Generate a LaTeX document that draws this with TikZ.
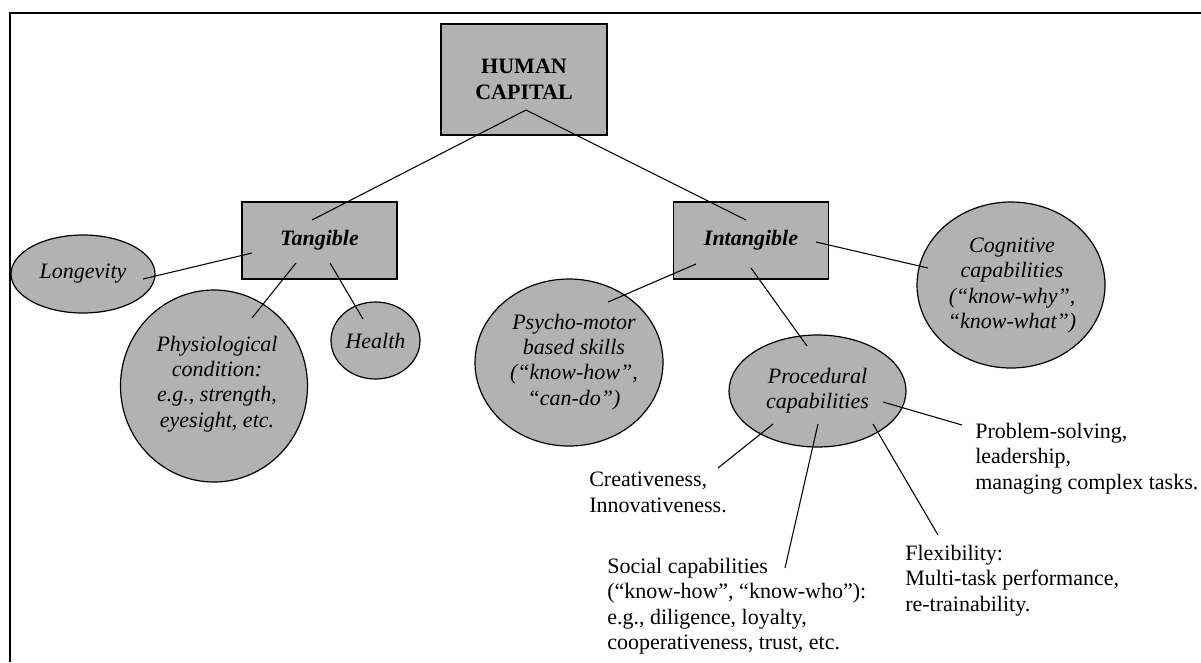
\documentclass[tikz,border=0pt]{standalone}
\usepackage{fontspec}
\setmainfont{Liberation Serif}
\usepackage{tikz}
\usetikzlibrary{positioning,shapes.geometric,calc}

\tikzset{
  capbox/.style={draw, fill=black!30, line width=0.9pt, inner sep=0pt},
  capblob/.style={draw, fill=black!30, line width=0.9pt, ellipse, inner sep=0pt},
  captext/.style={font=\fontsize{16.5}{19}\selectfont\itshape, align=center, inner sep=0pt},
  plaintext/.style={font=\fontsize{16.5}{19}\selectfont, align=left, anchor=north west, inner sep=0pt},
  branch/.style={line width=0.8pt}
}

\begin{document}
\begin{tikzpicture}[x=0.75pt,y=0.75pt,yscale=-1,xscale=1]
\useasboundingbox (0,0) rectangle (1201,662);

%Frame
\draw [line width=1.5pt] (1201,12.5) -- (9.5,12.5) -- (9.5,662);

%Shape: Rectangle
\node [capbox, minimum width=124.5pt, minimum height=83.25pt, font=\fontsize{16.5}{19}\selectfont\bfseries, align=center] (hc) at (524,79.5) {HUMAN\\CAPITAL};
\node [capbox, minimum width=116.25pt, minimum height=57.75pt, font=\fontsize{16.5}{19}\selectfont\bfseries\itshape] (tg) at (319.5,240.5) {Tangible\hspace{10.5pt}};
\node [capbox, minimum width=116.25pt, minimum height=57.75pt, font=\fontsize{16.5}{19}\selectfont\bfseries\itshape] (itg) at (751,240.5) {Intangible\hspace{9pt}};

%Shape: Ellipse
\node [capblob, minimum width=108pt, minimum height=58.5pt, font=\fontsize{16.5}{19}\selectfont\itshape] (lg) at (83,274) {Longevity};
\node [capblob, minimum width=140.25pt, minimum height=144pt] (ph) at (214,386) {};
\node [capblob, minimum width=66.75pt, minimum height=57.75pt, font=\fontsize{16.5}{19}\selectfont\itshape] (hl) at (375.5,340.5) {Health};
\node [capblob, minimum width=141pt, minimum height=125.25pt] (ps) at (569,362.5) {};
\node [capblob, minimum width=141pt, minimum height=124.5pt] (cg) at (1011,285) {};
\node [capblob, minimum width=132.75pt, minimum height=84pt, captext] (pr) at (817.5,391) {Procedural\\capabilities};

% Text Node
\node [captext] (pht) at (217,384) {Physiological\\condition:\\e.g., strength,\\eyesight, etc.};
\node [captext] (pst) at (574,362) {Psycho-motor\\based skills\\(“know-how”,\\“can-do”)};
\node [captext] (cgt) at (1012,285.5) {Cognitive\\capabilities\\(“know-why”,\\“know-what”)};

\node [plaintext] (cr) at (589,472) {Creativeness,\\Innovativeness.};
\node [plaintext] (so) at (607,558) {Social capabilities\\(“know-how”, “know-who”):\\e.g., diligence, loyalty,\\cooperativeness, trust, etc.};
\node [plaintext] (fx) at (905,545) {Flexibility:\\Multi-task performance,\\re-trainability.};
\node [plaintext] (pb) at (975,423) {Problem-solving,\\leadership,\\managing complex tasks.};

\coordinate (crx) at (718,468);
\coordinate (sox) at (785,568);
\coordinate (fxx) at (938,535);
\coordinate (pbx) at (962,425);

%Straight Lines
\draw [branch] ($(hc)+(2,30.5)$) -- ($(tg)+(-7.5,-20.5)$);
\draw [branch] ($(hc)+(2,30.5)$) -- ($(itg)+(-5,-20.5)$);

\draw [branch] ($(lg)+(60,5)$) -- ($(tg)+(-67.5,12.5)$);
\draw [branch] ($(tg)+(-23.5,22.5)$) -- ($(ph)+(38,-68)$);
\draw [branch] ($(tg)+(10.5,22.5)$) -- ($(hl)+(-12.5,-21.5)$);

\draw [branch] ($(itg)+(-55,23.5)$) -- ($(ps)+(39,-60.5)$);
\draw [branch] ($(itg)+(0,27.5)$) -- ($(pr)+(-10.5,-45)$);
\draw [branch] ($(itg)+(65,1.5)$) -- ($(cg)+(-83,-17)$);

\draw [branch] ($(pr)+(-44.5,33)$) -- (crx);
\draw [branch] ($(pr)+(0.5,33)$) -- (sox);
\draw [branch] ($(pr)+(55.5,33)$) -- (fxx);
\draw [branch] ($(pr)+(65.5,11)$) -- (pbx);

\end{tikzpicture}
\end{document}
